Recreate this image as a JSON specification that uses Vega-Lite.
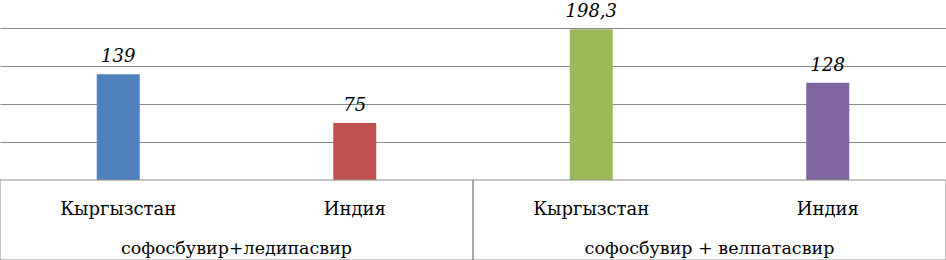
{
  "$schema": "https://vega.github.io/schema/vega-lite/v6.json",
  "width": 946,
  "height": 260,
  "autosize": "none",
  "padding": 0,
  "background": "white",
  "config": {"view": {"stroke": null}, "font": "DejaVu Serif"},
  "datasets": {
    "bars": [
      {"key": "k1", "country": "Кыргызстан", "group": "софосбувир+ледипасвир", "value": 139, "label": "139"},
      {"key": "k2", "country": "Индия", "group": "софосбувир+ледипасвир", "value": 75, "label": "75"},
      {"key": "k3", "country": "Кыргызстан", "group": "софосбувир + велпатасвир", "value": 198.3, "label": "198,3"},
      {"key": "k4", "country": "Индия", "group": "софосбувир + велпатасвир", "value": 128, "label": "128"}
    ],
    "groups": [
      {"group": "софосбувир+ледипасвир"},
      {"group": "софосбувир + велпатасвир"}
    ]
  },
  "layer": [
    {
      "data": {"name": "bars"},
      "layer": [
        {
          "mark": {"type": "rule", "opacity": 0},
          "encoding": {
            "y": {
              "field": "value",
              "type": "quantitative",
              "scale": {"domain": [-105.26, 236.84], "nice": false, "zero": false},
              "axis": {
                "values": [50, 100, 150, 200],
                "grid": true,
                "gridColor": "#8a8a8a",
                "gridWidth": 1,
                "gridOpacity": 1,
                "labels": false,
                "ticks": false,
                "domain": false,
                "title": null
              }
            }
          }
        },
        {
          "mark": {"type": "bar", "width": 43},
          "encoding": {
            "x": {
              "field": "key",
              "type": "nominal",
              "scale": {"paddingInner": 0, "paddingOuter": 0},
              "axis": null
            },
            "y": {"field": "value", "type": "quantitative"},
            "y2": {"datum": 0},
            "color": {
              "field": "key",
              "type": "nominal",
              "scale": {"domain": ["k1", "k2", "k3", "k4"], "range": ["#4F81BD", "#C0504D", "#9BBB59", "#8064A2"]},
              "legend": null
            }
          }
        },
        {
          "mark": {"type": "text", "font": "DejaVu Serif", "fontStyle": "italic", "fontSize": 18, "baseline": "alphabetic", "dy": -12, "color": "#000"},
          "encoding": {
            "x": {"field": "key", "type": "nominal"},
            "y": {"field": "value", "type": "quantitative"},
            "text": {"field": "label"}
          }
        },
        {
          "mark": {"type": "text", "font": "DejaVu Serif", "fontSize": 18, "baseline": "middle", "color": "#000"},
          "encoding": {
            "x": {"field": "key", "type": "nominal"},
            "y": {"datum": -39.5},
            "text": {"field": "country"}
          }
        }
      ]
    },
    {
      "data": {"name": "groups"},
      "layer": [
        {
          "mark": {"type": "rect", "fill": null, "stroke": "#8a8a8a", "strokeWidth": 1},
          "encoding": {
            "x": {
              "field": "group",
              "type": "nominal",
              "sort": null,
              "scale": {"paddingInner": 0, "paddingOuter": 0},
              "axis": null
            },
            "y": {"datum": 0},
            "y2": {"datum": -105.26}
          }
        },
        {
          "mark": {"type": "text", "font": "DejaVu Serif", "fontSize": 17.5, "baseline": "middle", "color": "#000"},
          "encoding": {
            "x": {"field": "group", "type": "nominal", "sort": null},
            "y": {"datum": -91},
            "text": {"field": "group"}
          }
        }
      ]
    }
  ],
  "resolve": {"scale": {"x": "independent", "color": "independent"}}
}
